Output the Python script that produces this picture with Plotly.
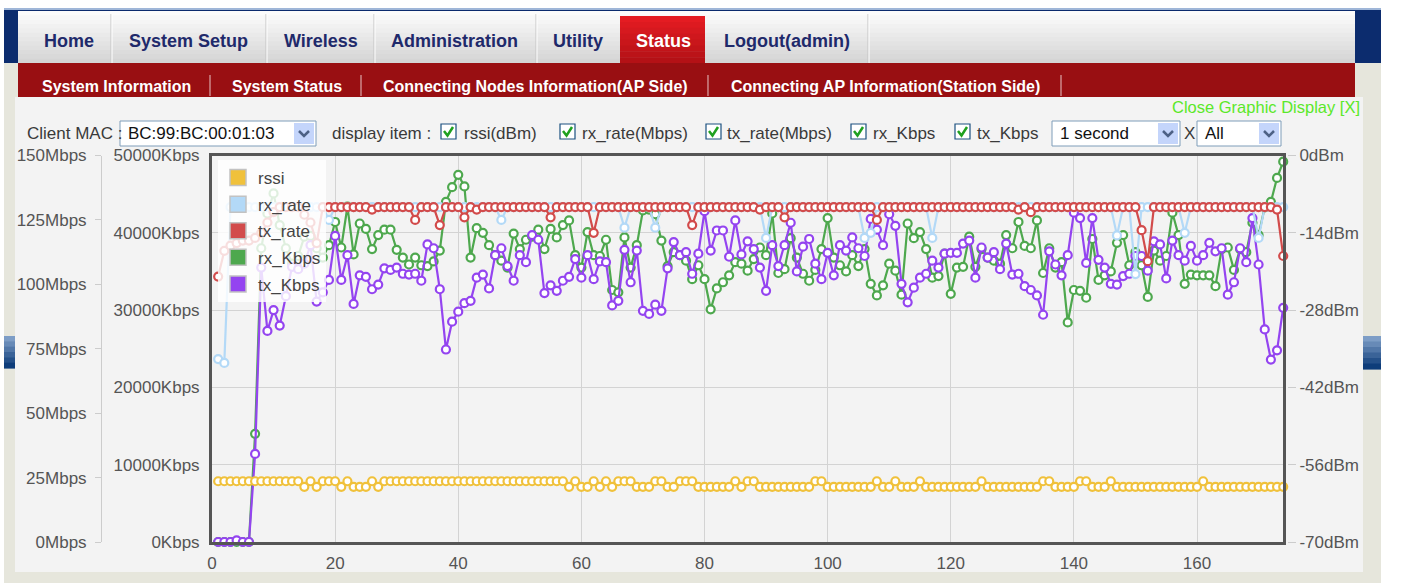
import plotly.graph_objects as go

W, H = 1403, 583
FONT = "Liberation Sans, Arial, sans-serif"

# ---- data ----
sample = list(range(1, 175))

rssi_dbm = [
    -59, -59, -59, -59, -59, -59, -59, -59, -59, -59,
    -59, -59, -59, -59, -60, -59, -60, -59, -59, -59,
    -60, -59, -60, -60, -60, -59, -60, -59, -59, -59,
    -59, -59, -59, -59, -59, -59, -59, -59, -59, -59,
    -59, -59, -59, -59, -59, -59, -59, -59, -59, -59,
    -59, -59, -59, -59, -59, -59, -59, -60, -59, -60,
    -60, -59, -60, -59, -60, -59, -59, -59, -60, -60,
    -60, -59, -59, -60, -60, -59, -59, -59, -60, -60,
    -60, -60, -60, -60, -59, -60, -59, -59, -60, -60,
    -60, -60, -60, -60, -60, -60, -60, -59, -59, -60,
    -60, -60, -60, -60, -60, -60, -60, -59, -60, -60,
    -59, -60, -60, -60, -59, -60, -60, -60, -60, -60,
    -60, -60, -60, -60, -59, -60, -60, -60, -60, -60,
    -60, -60, -60, -60, -59, -59, -60, -60, -60, -60,
    -59, -59, -60, -60, -60, -59, -60, -60, -60, -60,
    -60, -60, -60, -60, -60, -60, -60, -60, -60, -60,
    -59, -60, -60, -60, -60, -60, -60, -60, -60, -60,
    -60, -60, -60, -60,
]

rx_rate_mbps = [
    71, 69.5, 130, 130, 130, 130, 130, 130, 130, 130,
    130, 130, 130, 130, 130, 130, 130, 130, 125, 130,
    130, 130, 130, 130, 130, 130, 130, 130, 130, 130,
    130, 130, 130, 130, 130, 130, 130, 130, 130, 130,
    130, 130, 130, 130, 130, 130, 125, 130, 130, 130,
    130, 130, 130, 130, 130, 130, 130, 130, 130, 130,
    130, 130, 130, 130, 130, 130, 122, 130, 130, 130,
    130, 122, 130, 130, 130, 130, 130, 130, 130, 130,
    130, 130, 130, 130, 130, 130, 130, 130, 130, 118,
    130, 130, 130, 130, 130, 130, 130, 130, 130, 130,
    130, 130, 130, 130, 130, 118, 120, 130, 130, 130,
    130, 130, 130, 130, 130, 130, 118, 130, 130, 130,
    130, 130, 130, 130, 130, 130, 130, 130, 130, 130,
    130, 130, 130, 130, 130, 130, 130, 130, 130, 130,
    130, 130, 130, 130, 130, 130, 119, 130, 130, 104,
    130, 130, 130, 130, 130, 130, 130, 120, 130, 130,
    130, 130, 130, 130, 130, 130, 130, 130, 130, 118,
    130, 130, 130, 130,
]

tx_rate_mbps = [
    103, 113, 115, 116, 117, 117, 118, 120, 124, 128,
    130, 130, 130, 130, 127, 124, 116, 130, 130, 130,
    130, 130, 130, 130, 130, 129, 130, 130, 130, 130,
    130, 130, 125, 130, 130, 130, 123, 130, 130, 130,
    126, 130, 129, 130, 130, 130, 130, 130, 130, 130,
    130, 130, 130, 130, 126, 130, 130, 130, 130, 130,
    130, 120, 130, 130, 130, 130, 130, 130, 130, 130,
    130, 130, 130, 130, 130, 130, 130, 123, 130, 130,
    130, 130, 130, 130, 130, 130, 130, 130, 129, 130,
    130, 130, 126, 130, 130, 130, 130, 130, 130, 130,
    130, 130, 130, 130, 130, 130, 130, 125, 130, 130,
    130, 130, 130, 130, 130, 130, 130, 130, 130, 130,
    130, 130, 130, 130, 130, 130, 130, 130, 130, 130,
    129, 130, 128, 130, 130, 130, 130, 130, 130, 130,
    130, 130, 130, 130, 130, 130, 130, 130, 130, 130,
    121, 109, 130, 130, 130, 130, 130, 130, 130, 130,
    130, 130, 130, 130, 130, 130, 130, 130, 130, 130,
    130, 130, 129, 111,
]

rx_kbps = [
    0, 0, 0, 0, 0, 0, 14000, 38000, 42500, 45100,
    41000, 38000, 36000, 37000, 39500, 39600, 38000, 36800, 38400, 41400,
    38100, 43400, 37200, 41200, 40500, 37900, 39700, 40400, 40400, 37800,
    36800, 35900, 36800, 35800, 35700, 36300, 37700, 44000, 45900, 47500,
    46000, 36800, 40600, 40000, 38400, 37100, 36400, 35500, 39900, 37900,
    39100, 39500, 40400, 37900, 40500, 39400, 41000, 41600, 37100, 35500,
    40100, 37100, 37000, 39100, 32600, 32300, 39400, 35500, 38400, 42900,
    43000, 42400, 39000, 35700, 37500, 37100, 36400, 34000, 35800, 34000,
    30100, 32800, 33600, 34500, 36200, 36000, 35100, 36600, 38100, 37100,
    42500, 34800, 35300, 39300, 36800, 34700, 33800, 35200, 37900, 41900,
    36800, 35800, 35000, 37100, 35700, 37900, 33400, 31900, 33200, 36000,
    35100, 32000, 41200, 39300, 40100, 37900, 34200, 34400, 37300, 32100,
    35500, 35600, 39500, 35600, 37900, 36800, 36400, 36000, 39700, 38000,
    41400, 38300, 38000, 41600, 34800, 38000, 35500, 36200, 28400, 32600,
    32500, 31600, 39200, 33900, 34500, 35000, 38700, 39700, 35800, 37500,
    35800, 31700, 37700, 36400, 37000, 42600, 39700, 33400, 34600, 34500,
    34500, 34500, 33100, 37900, 38100, 35200, 37900, 37500, 41300, 39700,
    43300, 44000, 47100, 49200,
]

tx_kbps = [
    0, 0, 0, 200, 0, 0, 11400, 35500, 27300, 30000,
    28000, 31800, 35600, 35300, 36000, 38400, 31100, 32300, 33900, 39600,
    33900, 37100, 30800, 34500, 34300, 32700, 33300, 35400, 35200, 35500,
    34700, 34600, 34700, 33800, 38500, 38000, 32700, 24900, 28500, 29800,
    30900, 31200, 34200, 34600, 32800, 37100, 38000, 35700, 33800, 37100,
    36200, 39700, 39100, 32200, 33200, 32500, 33800, 34300, 36600, 34200,
    37100, 34000, 36300, 36200, 30600, 31200, 37800, 33600, 37700, 29900,
    29500, 30700, 29900, 35400, 38800, 37100, 37500, 34700, 37300, 42800,
    37700, 40300, 40300, 36900, 41600, 37200, 38900, 37900, 35500, 32500,
    38400, 35700, 38400, 41300, 35000, 38200, 39200, 36000, 34000, 37400,
    34500, 38400, 37700, 39400, 38000, 37000, 41800, 40400, 38400, 42400,
    40900, 33400, 31000, 32900, 34200, 34700, 36400, 35500, 37300, 37400,
    37400, 38600, 39000, 34200, 38100, 36800, 37500, 35300, 38600, 34600,
    34700, 33100, 32600, 31900, 29400, 37600, 35900, 34500, 37100, 42600,
    41900, 36100, 41900, 36500, 35500, 33400, 33300, 34400, 34700, 37000,
    37000, 35100, 38900, 38500, 34100, 39000, 37100, 36400, 38300, 36400,
    37100, 38700, 37600, 38000, 32000, 33600, 38000, 36200, 41900, 35900,
    27500, 23600, 24800, 30300,
]

x_ticks = [0, 20, 40, 60, 80, 100, 120, 140, 160]
kbps_ticks = [0, 10000, 20000, 30000, 40000, 50000]
mbps_ticks = [0, 25, 50, 75, 100, 125, 150]
dbm_ticks = [-70, -56, -42, -28, -14, 0]

series_names = ["rssi", "rx_rate", "tx_rate", "rx_Kbps", "tx_Kbps"]
series_colors = ["#f0c13b", "#b3d9f7", "#d24b4b", "#4ea84e", "#9444f0"]

tabs = ["Home", "System Setup", "Wireless", "Administration", "Utility", "Status", "Logout(admin)"]
sub_tabs = ["System Information", "System Status",
            "Connecting Nodes Information(AP Side)", "Connecting AP Information(Station Side)"]
display_items = ["rssi(dBm)", "rx_rate(Mbps)", "tx_rate(Mbps)", "rx_Kbps", "tx_Kbps"]


# ---- helpers for page chrome (pixel coords -> paper) ----
def fx(x):
    return x / W


def fy(y):
    return 1 - y / H


shapes = []
annotations = []


def rect(x0, y0, x1, y1, fill, line=None, lw=0, layer="below"):
    shapes.append(dict(type="rect", xref="paper", yref="paper",
                       x0=fx(x0), x1=fx(x1), y0=fy(y1), y1=fy(y0),
                       fillcolor=fill, layer=layer,
                       line=dict(width=lw, color=line or fill)))


def seg(pts, color, width, layer="below"):
    path = "M " + " L ".join(f"{fx(a):.5f},{fy(b):.5f}" for a, b in pts)
    shapes.append(dict(type="path", xref="paper", yref="paper", path=path,
                       line=dict(color=color, width=width), layer=layer))


def mix(c1, c2, t):
    a = [int(c1[i:i + 2], 16) for i in (1, 3, 5)]
    b = [int(c2[i:i + 2], 16) for i in (1, 3, 5)]
    return "#" + "".join(f"{round(p + (q - p) * t):02x}" for p, q in zip(a, b))


def bands(x0, y0, x1, y1, top, bot, n=10):
    h = (y1 - y0) / n
    for i in range(n):
        rect(x0, y0 + i * h, x1, y0 + (i + 1) * h + 0.6, mix(top, bot, i / (n - 1)))


def text(x, y, s, size=17, color="#333333", anchor="left"):
    annotations.append(dict(x=fx(x), y=fy(y), xref="paper", yref="paper", text=s,
                            showarrow=False, xanchor=anchor, yanchor="middle",
                            font=dict(family=FONT, size=size, color=color)))


# page background pieces
rect(4, 8, 1381, 64, "#0c2c6e")
rect(4, 8, 1381, 10, "#9fb6d8")
rect(4, 63, 1381, 583, "#e6e6dc")
rect(15, 97, 1363, 572, "#f3f3f3")
bands(4, 336, 15, 368, "#7d9dc6", "#0e3d7a", 6)
bands(1363, 336, 1381, 369, "#7d9dc6", "#0e3d7a", 6)

# tab bar
bands(18, 11, 1355, 63, "#fcfcfc", "#d5d5d5", 12)
for xd in [111, 266, 374, 536, 868]:
    seg([(xd, 14), (xd, 63)], "#c4c4c4", 1)
    seg([(xd + 1, 14), (xd + 1, 63)], "#ffffff", 1)
bands(620, 16, 705, 63, "#e41c22", "#b41116", 8)
tab_x = [69, 188.5, 320.5, 455, 578, 663, 787]
for t, xc in zip(tabs, tab_x):
    text(xc, 41, f"<b>{t}</b>", 18, "#ffffff" if t == "Status" else "#1f2a6b", "center")

# sub navigation
rect(18, 63, 1355, 97, "#990f12")
for xs in [210, 361, 708, 1061]:
    seg([(xs, 75), (xs, 96)], "#e7c4c4", 1)
for t, xc in zip(sub_tabs, [116, 286.5, 535, 885.5]):
    text(xc, 86, f"<b>{t}</b>", 16, "#ffffff", "center")

text(1362, 107, "Close Graphic Display [X]", 16.5, "#5be829", "right")

# control row
ROW = 133
text(25, ROW, "Client MAC :", 17, "#3a3a3a")


def select_box(x0, x1, label):
    rect(x0, 121, x1, 146, "#ffffff", "#7f9db9", 1)
    rect(x1 - 22, 123, x1 - 2, 144, "#c4d5fb", "#c4d5fb", 0)
    seg([(x1 - 17, 131), (x1 - 12, 136), (x1 - 7, 131)], "#4d6185", 2.5)
    text(x0 + 6, ROW, label, 17, "#111111")


select_box(120, 316, "BC:99:BC:00:01:03")
text(330, ROW, "display item :", 17, "#3a3a3a")
for lab, cx, lx in zip(display_items, [441, 560, 706, 851, 955], [462, 580, 725, 871, 975]):
    rect(cx, 124, cx + 15, 139, "#ffffff", "#1c5180", 1.2)
    seg([(cx + 3, 131), (cx + 6.5, 135.5), (cx + 12, 127)], "#1fa01f", 2.5)
    text(lx, ROW, lab, 17, "#3a3a3a")
select_box(1052, 1180, "1 second")
text(1182, ROW, "X", 17, "#3a3a3a")
select_box(1197, 1281, "All")

# ---- chart ----
fig = go.Figure()
marker = dict(symbol="circle", size=8, color="#ffffff")
axes_for = {"rssi": "y3", "rx_rate": "y2", "tx_rate": "y2", "rx_Kbps": "y", "tx_Kbps": "y"}
values_for = {"rssi": rssi_dbm, "rx_rate": rx_rate_mbps, "tx_rate": tx_rate_mbps,
              "rx_Kbps": rx_kbps, "tx_Kbps": tx_kbps}

for name, col in zip(series_names, series_colors):
    fig.add_trace(go.Scatter(
        x=sample, y=values_for[name], yaxis=axes_for[name], name=name,
        mode="lines+markers", line=dict(color=col, width=2.2),
        marker=dict(marker, line=dict(color=col, width=2.2)),
        cliponaxis=False, showlegend=False, hoverinfo="skip"))

# legend swatches
for i, (name, col) in enumerate(zip(series_names, series_colors)):
    fig.add_trace(go.Scatter(
        x=[None], y=[None], name=name, mode="markers", legendgroup=name,
        marker=dict(symbol="square", size=16, color=col, line=dict(color="#c2c2c2", width=1.5))))

axis_font = dict(family=FONT, size=17, color="#555555")
fig.update_layout(
    width=W, height=H, autosize=False,
    margin=dict(l=0, r=0, t=0, b=0),
    paper_bgcolor="#ffffff", plot_bgcolor="#f3f3f3",
    shapes=shapes, annotations=annotations,
    xaxis=dict(domain=[fx(212), fx(1283.2)], range=[0, 174], tickvals=x_ticks,
               showgrid=True, gridcolor="#d3d3d3", gridwidth=1, zeroline=False,
               showline=True, linecolor="#555555", linewidth=3, mirror=True,
               ticks="", ticklabelstandoff=4, tickfont=axis_font, fixedrange=True, automargin=False),
    yaxis=dict(domain=[fy(542), fy(155.5)], range=[0, 50000], tickvals=kbps_ticks,
               ticktext=[f"{v}Kbps" for v in kbps_ticks],
               showgrid=True, gridcolor="#d3d3d3", gridwidth=1, zeroline=False,
               showline=True, linecolor="#555555", linewidth=3, mirror=True,
               ticks="outside", ticklen=6, tickcolor="#f3f3f3",
               tickfont=axis_font, fixedrange=True, automargin=False),
    yaxis2=dict(overlaying="y", anchor="free", position=fx(101), side="left",
                range=[0, 150], tickvals=mbps_ticks, ticktext=[f"{v}Mbps" for v in mbps_ticks],
                showgrid=False, zeroline=False, showline=True, linecolor="#cccccc", linewidth=1,
                ticks="outside", ticklen=6, tickcolor="#cccccc", ticklabelstandoff=5,
                tickfont=axis_font, fixedrange=True, automargin=False),
    yaxis3=dict(overlaying="y", anchor="free", position=fx(1287), side="right",
                range=[-70, 0], tickvals=dbm_ticks, ticktext=[f"{v}dBm" for v in dbm_ticks],
                showgrid=False, zeroline=False, showline=False,
                ticks="outside", ticklen=8, tickcolor="#cccccc",
                tickfont=axis_font, fixedrange=True, automargin=False),
    legend=dict(x=fx(218), y=fy(160), xanchor="left", yanchor="top",
                bgcolor="rgba(255,255,255,0.82)", borderwidth=0,
                font=dict(family=FONT, size=17, color="#444444"),
                tracegroupgap=1.5, itemsizing="trace"),
    showlegend=True,
)

# the page body has a default 8px margin; drop it so the figure sits at 0,0
fig.write_html("out.html", config={"displayModeBar": False},
               post_script="document.body.style.margin='0';document.body.style.overflow='hidden';")
